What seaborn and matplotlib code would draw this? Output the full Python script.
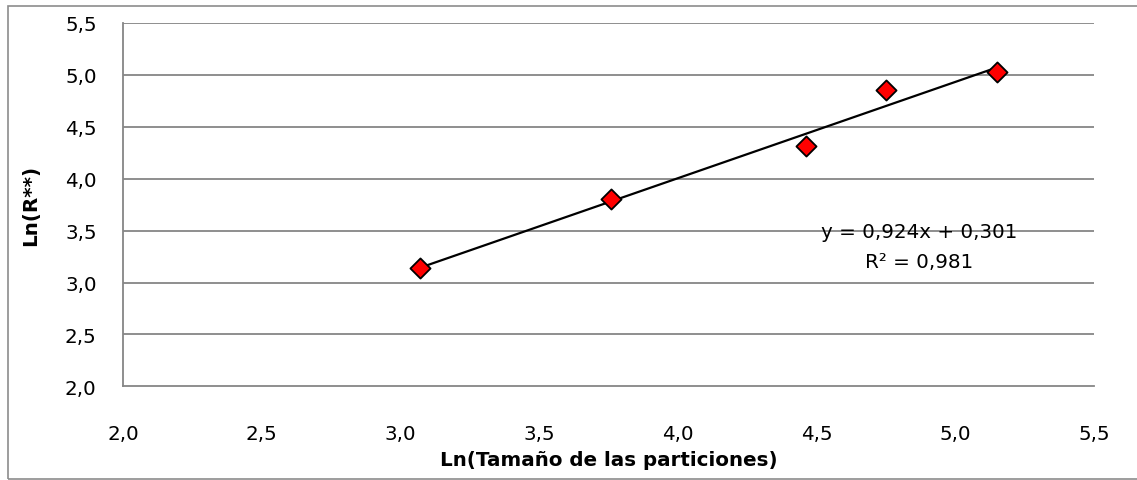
import matplotlib
matplotlib.use("Agg")
import matplotlib.pyplot as plt
import seaborn as sns
import numpy as np
import pandas as pd
from matplotlib.patches import Rectangle

# Data
ln_tamano = [3.07, 3.76, 4.46, 4.75, 5.15]
ln_r = [3.14, 3.80, 4.31, 4.85, 5.02]
x_ticks = [2.0, 2.5, 3.0, 3.5, 4.0, 4.5, 5.0, 5.5]
y_ticks = [2.0, 2.5, 3.0, 3.5, 4.0, 4.5, 5.0, 5.5]
eq_text = "y = 0,924x + 0,301"
r2_text = "R² = 0,981"

sns.set_theme(style="white")
plt.rcParams['font.family'] = ['DejaVu Sans']

df = pd.DataFrame({"x": ln_tamano, "y": ln_r})

fig = plt.figure(figsize=(11.37, 4.81), dpi=100)
ax = fig.add_axes([0.1082, 0.1944, 0.8543, 0.7567])

# outer chart border (right edge falls outside the image)
fig.patches.append(Rectangle((0.00704, 0.002), 1.02, 0.9834, transform=fig.transFigure,
                             fill=False, edgecolor="#8c8c8c", linewidth=1.2))

gray = "#868686"
for yv in y_ticks[1:]:
    ax.axhline(yv, color=gray, linewidth=1.3, zorder=0)

sns.regplot(data=df, x="x", y="y", ax=ax, ci=None, truncate=True,
            marker="D",
            scatter_kws=dict(s=105, color="#ff0000", edgecolor="black", linewidths=1.3, zorder=4, alpha=1),
            line_kws=dict(color="black", linewidth=1.6, zorder=3))

ax.set_xlim(2.0, 5.5)
ax.set_ylim(2.0, 5.5)
ax.set_xticks(x_ticks)
ax.set_yticks(y_ticks)
fs = 14.3
ax.set_xticklabels([f"{v:.1f}".replace(".", ",") for v in x_ticks], fontsize=fs, color="black")
ax.set_yticklabels([f"{v:.1f}".replace(".", ",") for v in y_ticks], fontsize=fs, color="black")
ax.tick_params(axis="both", direction="out", length=6, width=1.2, color=gray)
ax.tick_params(axis="x", pad=21)
ax.tick_params(axis="y", pad=13)
ax.set_xlabel("Ln(Tamaño de las particiones)", fontsize=fs, fontweight="bold", labelpad=5, color="black")
ax.set_ylabel("Ln(R**)", fontsize=fs, fontweight="bold", labelpad=18, color="black")

for side in ["top", "right"]:
    ax.spines[side].set_visible(False)
for side in ["left", "bottom"]:
    ax.spines[side].set_color(gray)
    ax.spines[side].set_linewidth(1.3)

ax.text(4.87, 3.49, eq_text, ha="center", va="center", fontsize=fs, color="black")
ax.text(4.87, 3.20, r2_text, ha="center", va="center", fontsize=fs, color="black")

fig.savefig("out.png", dpi=100)
